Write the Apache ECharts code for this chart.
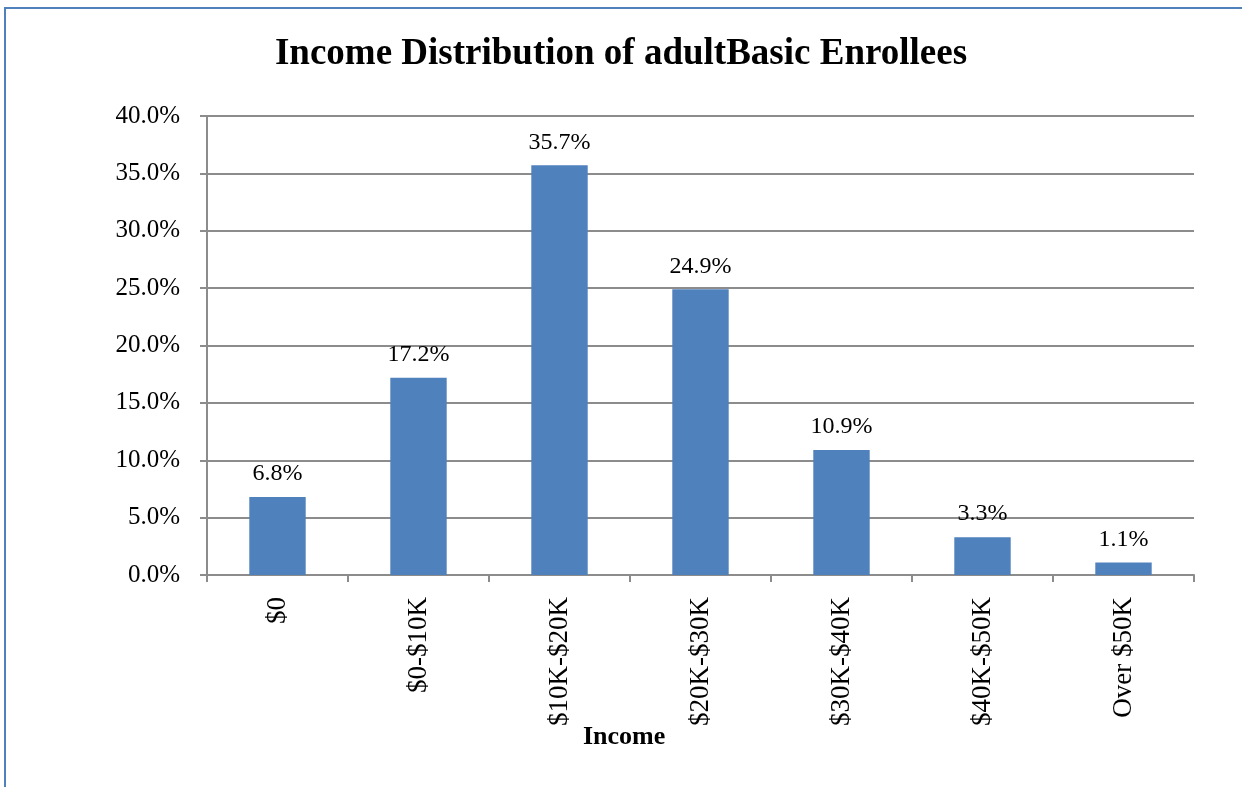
<!DOCTYPE html>
<html><head><meta charset="utf-8">
<script src="https://cdn.jsdelivr.net/npm/echarts@6/dist/echarts.min.js"></script>
<style>
html,body{margin:0;padding:0;background:#fff;}
#frame{position:absolute;left:4px;top:7px;width:1300px;height:900px;border-left:2px solid #4f81bd;border-top:2px solid #4f81bd;}
#c{position:absolute;left:0;top:0;width:1242px;height:787px;}
</style></head>
<body>
<div id="frame"></div>
<div id="c"></div>
<script>
var categories = ['$0','$0-$10K','$10K-$20K','$20K-$30K','$30K-$40K','$40K-$50K','Over $50K'];
var values = [6.8, 17.2, 35.7, 24.9, 10.9, 3.3, 1.1];
var yTicks = {min: 0, max: 40, interval: 5};
var font = '"Liberation Serif","Times New Roman",serif';
var chart = echarts.init(document.getElementById('c'));
chart.setOption({
  animation: false,
  backgroundColor: 'transparent',
  title: {
    text: 'Income Distribution of adultBasic Enrollees',
    left: 'center', top: 31,
    textStyle: {fontFamily: font, fontSize: 37, fontWeight: 'bold', color: '#000'}
  },
  graphic: [{
    type: 'text', left: 583, top: 724,
    style: {text: 'Income', font: 'bold 26px ' + font, fill: '#000'}
  }],
  grid: {left: 207, right: 48, top: 116, bottom: 212},
  xAxis: {
    type: 'category',
    data: categories,
    axisLine: {lineStyle: {color: '#8c8c8c', width: 2}},
    axisTick: {show: true, length: 7, lineStyle: {color: '#8c8c8c', width: 2}},
    axisLabel: {rotate: 90, margin: 22, fontFamily: font, fontSize: 27, color: '#000', interval: 0}
  },
  yAxis: {
    type: 'value',
    min: yTicks.min, max: yTicks.max, interval: yTicks.interval,
    axisLine: {show: true, lineStyle: {color: '#8c8c8c', width: 2}},
    axisTick: {show: true, length: 7, lineStyle: {color: '#8c8c8c', width: 2}},
    splitLine: {lineStyle: {color: '#8c8c8c', width: 2}},
    axisLabel: {margin: 27, fontFamily: font, fontSize: 25, color: '#000',
      formatter: function(v){ return v.toFixed(1) + '%'; }}
  },
  series: [{
    type: 'bar',
    data: values,
    barWidth: '40%',
    itemStyle: {color: '#4f81bd'},
    label: {show: true, position: 'top', distance: 11, fontFamily: font, fontSize: 24, color: '#000',
      formatter: function(p){ return p.value.toFixed(1) + '%'; }}
  }]
});
</script>
</body></html>
